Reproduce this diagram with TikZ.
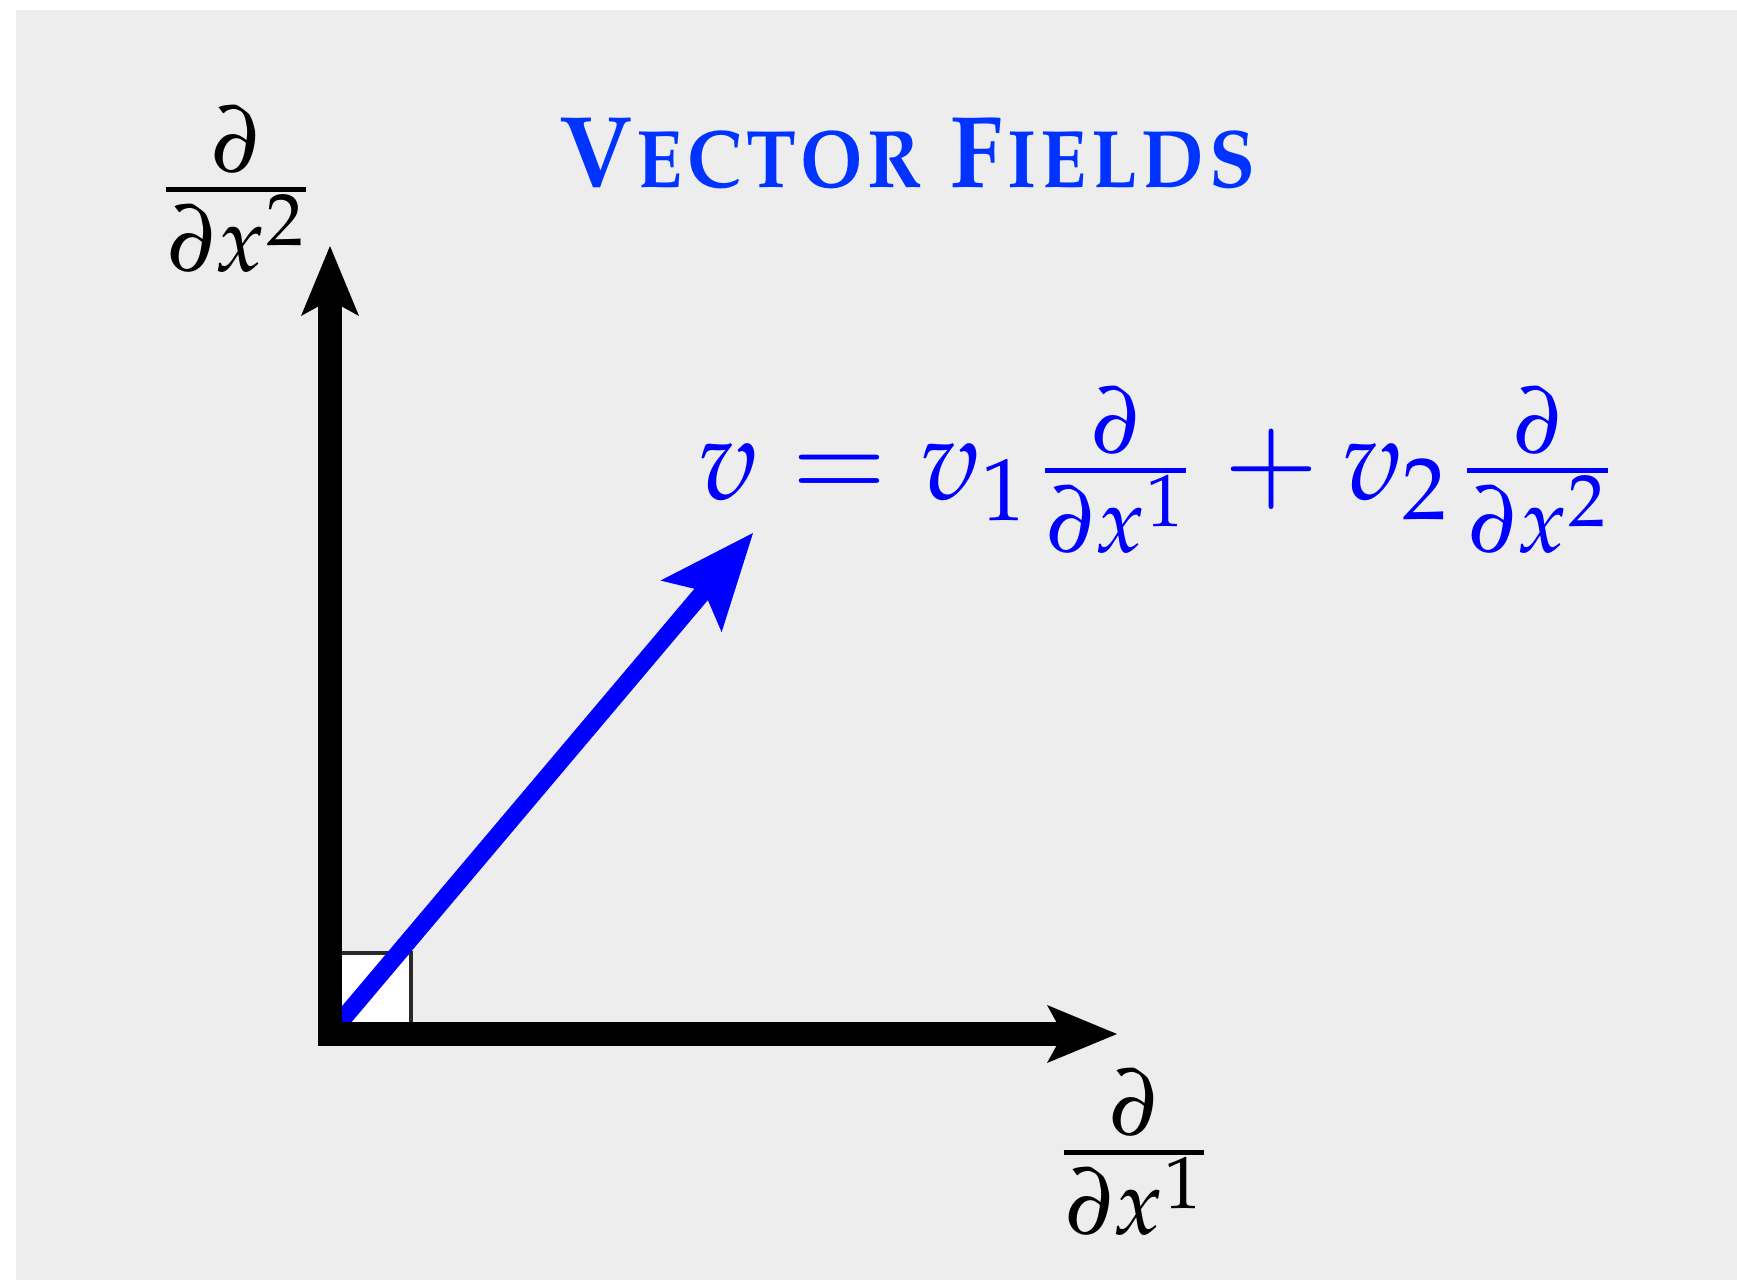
\documentclass[tikz,border=0pt]{standalone}
\usepackage[T1]{fontenc}
\usepackage{mathpazo}
\usepackage{amsmath}
\usepackage{graphicx}
\usetikzlibrary{arrows.meta}
\definecolor{bgc}{HTML}{EDEDED}
\definecolor{titlec}{HTML}{0033FF}
\definecolor{sqc}{HTML}{2A2A2A}
% partial derivative fraction, bar on the math axis
\newcommand{\pdfrac}[1]{\mathinner{\vcenter{\fontsize{46}{50}\selectfont
  \halign{\hfil##\hfil\cr
    $\partial$\cr
    \noalign{\kern7pt\hrule height2.5pt\kern6.5pt}
    \kern1.2pt$\partial x\kern0.5pt\smash{\raisebox{13pt}{\fontsize{37}{40}\selectfont$#1$}}$\kern1.2pt\cr}}}}

\begin{document}
\begin{tikzpicture}[x=0.5pt, y=-0.5pt,
      axis/.style={line width=12pt, line join=miter,
        {Stealth[length=35pt, width=29pt, inset=8pt, line width=0pt]}-{Stealth[length=35pt, width=29pt, inset=8pt, line width=0pt]}},
      vec/.style={blue, line width=8.8pt,
        -{Stealth[length=48pt, width=40pt, inset=10pt, line width=0pt]}},
      lbl/.style={inner sep=0pt},
      eqn/.style={blue, font=\fontsize{58}{64}\selectfont, inner sep=0pt},
      ttl/.style={titlec, font=\fontsize{51}{56}\selectfont\bfseries\scshape, inner sep=0pt}]
  \useasboundingbox (0,0) rectangle (1737,1280);
  \fill[bgc] (16,10) rectangle (1737,1280);

  \coordinate (o)  at (330,1034);
  \coordinate (e1) at (1117,1034);
  \coordinate (e2) at (330,246);
  \coordinate (vt) at (753,533);

  % right angle mark, then the vector under the axes
  \draw[sqc, line width=2pt, fill=white] (o) rectangle (411,953);
  \draw[vec] (o) -- (vt);
  \draw[axis] (e1) -- (o) -- (e2);

  \node[ttl, anchor=base] (title) at (907,187) {\scalebox{0.92}[1]{Vector Fields}};
  \node[lbl] (d2) at (236,189) {$\pdfrac{2}$};
  \node[lbl] (d1) at (1134,1152) {$\pdfrac{1}$};
  \node[eqn] (eq) at (1153,470)
    {$v = v_1\pdfrac{1}\kern7pt + v_2\pdfrac{2}$};
\end{tikzpicture}
\end{document}
